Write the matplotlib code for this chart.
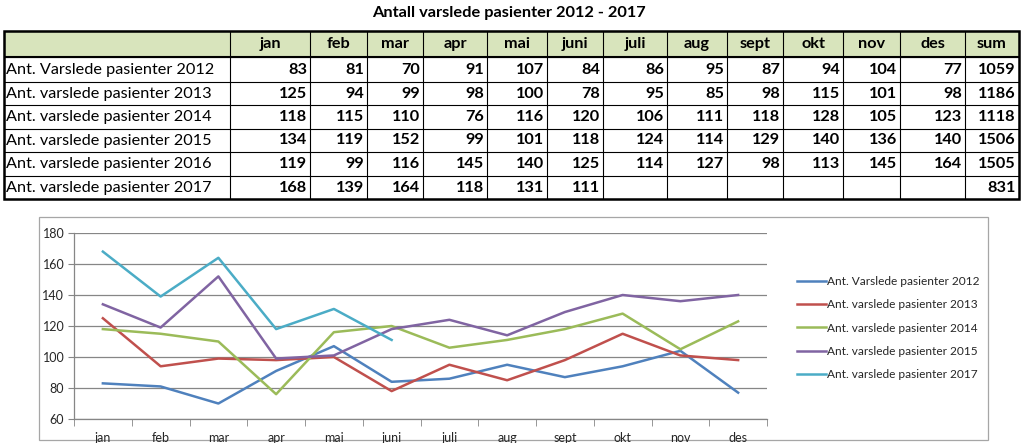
import numpy as np
import matplotlib.pyplot as plt
from matplotlib.patches import Rectangle

##############################################################################

# Data

title = "Antall varslede pasienter 2012 - 2017"
months = ["jan", "feb", "mar", "apr", "mai", "juni", "juli", "aug", "sept",
          "okt", "nov", "des"]
sum_label = "sum"
row_labels = ["Ant. Varslede pasienter 2012", "Ant. varslede pasienter 2013",
              "Ant. varslede pasienter 2014", "Ant. varslede pasienter 2015",
              "Ant. varslede pasienter 2016", "Ant. varslede pasienter 2017"]
v2012 = [83, 81, 70, 91, 107, 84, 86, 95, 87, 94, 104, 77]
v2013 = [125, 94, 99, 98, 100, 78, 95, 85, 98, 115, 101, 98]
v2014 = [118, 115, 110, 76, 116, 120, 106, 111, 118, 128, 105, 123]
v2015 = [134, 119, 152, 99, 101, 118, 124, 114, 129, 140, 136, 140]
v2016 = [119, 99, 116, 145, 140, 125, 114, 127, 98, 113, 145, 164]
v2017 = [168, 139, 164, 118, 131, 111]
sums = [1059, 1186, 1118, 1506, 1505, 831]

# series shown in the chart (2016 is not plotted in the original)
chart_rows = [0, 1, 2, 3, 5]

##############################################################################

# Layout (pixels)

W, H = 1023, 443
col_edges = [4, 230, 310, 367, 423, 487, 547, 603, 667, 727, 783, 843, 900,
             965, 1019]
row_edges = [31, 57, 82, 105, 129, 152, 176, 199]
header_fill = "#d8e4bc"
colors = ["#4f81bd", "#c0504d", "#9bbb59", "#8064a2", "#4bacc6"]
fnt = "Lato"
tfs = 11.7  # table font size

fig = plt.figure(figsize=(W/100, H/100), dpi=100)

# full-figure axes in pixel coords for the table and chart frame
bg = fig.add_axes([0, 0, 1, 1])
bg.set_xlim(0, W)
bg.set_ylim(H, 0)
bg.axis("off")

bg.text(509, 13, title, ha="center", va="center", fontsize=11.8,
        fontweight="bold", family=fnt)

# header fill
bg.add_patch(Rectangle((col_edges[0], row_edges[0]),
                       col_edges[-1]-col_edges[0], row_edges[1]-row_edges[0],
                       facecolor=header_fill, edgecolor="none", zorder=1))

# grid lines
bg.hlines(row_edges, col_edges[0], col_edges[-1], color="black", lw=0.8,
          zorder=2)
bg.vlines(col_edges, row_edges[0], row_edges[-1], color="black", lw=0.8,
          zorder=2)
# thicker outer border and header border
bg.add_patch(Rectangle((col_edges[0], row_edges[0]),
                       col_edges[-1]-col_edges[0], row_edges[-1]-row_edges[0],
                       facecolor="none", edgecolor="black", lw=1.8, zorder=3))
bg.hlines(row_edges[1], col_edges[0], col_edges[-1], color="black", lw=1.5,
          zorder=3)

# header texts
headers = months + [sum_label]
for i, h in enumerate(headers):
    xc = (col_edges[i+1] + col_edges[i+2]) / 2
    yc = (row_edges[0] + row_edges[1]) / 2
    bg.text(xc, yc, h, ha="center", va="center", fontsize=tfs,
            fontweight="bold", family=fnt)

# body texts
table_vals = [v2012, v2013, v2014, v2015, v2016, v2017]
for r, lab in enumerate(row_labels):
    yc = (row_edges[r+1] + row_edges[r+2]) / 2
    bg.text(col_edges[0]+2, yc, lab, ha="left", va="center", fontsize=tfs,
            family=fnt)
    vals = list(table_vals[r]) + [None]*(12-len(table_vals[r])) + [sums[r]]
    for c, v in enumerate(vals):
        if v is None:
            continue
        bg.text(col_edges[c+2]-3, yc, str(v), ha="right", va="center",
                fontsize=tfs, fontweight="bold", family=fnt)

# chart frame
bg.add_patch(Rectangle((39, 217), 988-39, 440-217, facecolor="white",
                       edgecolor="#a6a6a6", lw=0.9, zorder=1))

##############################################################################

# Line chart

ax = fig.add_axes([74/W, 1-419/H, (767-74)/W, (419-233)/H])
ax.set_facecolor("none")
x = np.arange(len(months))
for k, r in enumerate(chart_rows):
    y = table_vals[r]
    ax.plot(x[:len(y)], y, color=colors[k], lw=1.8, label=row_labels[r])

ax.set_xlim(-0.5, 11.5)
ax.set_ylim(60, 180)
ax.set_yticks(np.arange(60, 181, 20))
ax.yaxis.grid(True, color="#868686", lw=0.9)
ax.set_axisbelow(True)
ax.set_xticks(x)
ax.set_xticklabels(months)
ax.set_xticks(np.arange(-0.5, 12, 1), minor=True)
ax.tick_params(axis="x", which="major", length=0, pad=9, labelsize=9,
               labelcolor="#262626")
ax.tick_params(axis="x", which="minor", length=5, color="#868686")
ax.tick_params(axis="y", length=4, color="#868686", pad=3, labelsize=9,
               labelcolor="#262626")
for lab in ax.get_xticklabels() + ax.get_yticklabels():
    lab.set_family(fnt)
for s in ["top", "right"]:
    ax.spines[s].set_visible(False)
for s in ["left", "bottom"]:
    ax.spines[s].set_color("#868686")
    ax.spines[s].set_linewidth(0.9)

leg = fig.legend(loc="upper left", bbox_to_anchor=(797/W, 1-276/H),
                 frameon=False, borderpad=0, handlelength=2.4,
                 handletextpad=0.1, labelspacing=1.03,
                 prop={"family": fnt, "size": 8.6}, borderaxespad=0)
for t in leg.get_texts():
    t.set_color("#262626")

fig.savefig("out.png", dpi=100)
